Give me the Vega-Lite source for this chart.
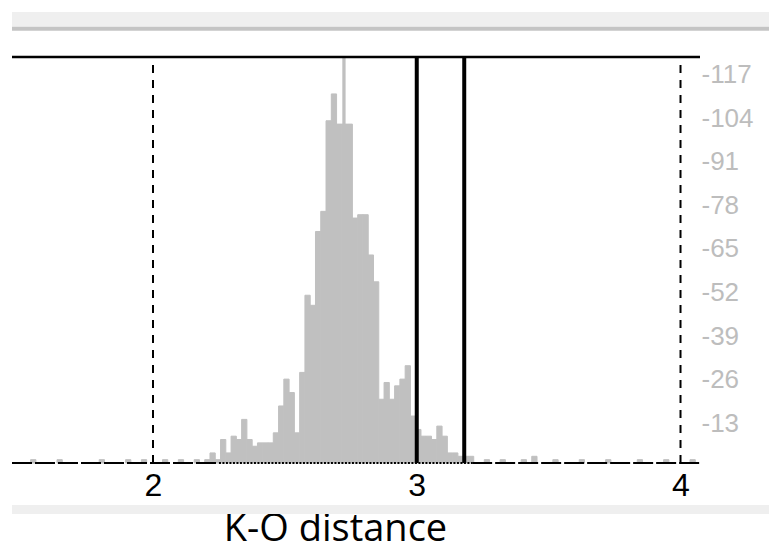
{
  "$schema": "https://vega.github.io/schema/vega-lite/v6.json",
  "width": 688,
  "height": 406,
  "autosize": {"type": "none"},
  "padding": {"left": 12, "top": 57, "right": 69, "bottom": 88},
  "background": "white",
  "config": {"view": {"stroke": null}},
  "datasets": {
    "bins": [
      {"k": 1.536, "k2": 1.556, "n": 1}, {"k": 1.636, "k2": 1.656, "n": 1}, {"k": 1.796, "k2": 1.816, "n": 1},
      {"k": 1.896, "k2": 1.916, "n": 1}, {"k": 1.956, "k2": 1.976, "n": 1}, {"k": 2.036, "k2": 2.056, "n": 1},
      {"k": 2.096, "k2": 2.116, "n": 1}, {"k": 2.156, "k2": 2.176, "n": 1}, {"k": 2.196, "k2": 2.216, "n": 1},
      {"k": 2.216, "k2": 2.236, "n": 3}, {"k": 2.236, "k2": 2.256, "n": 1}, {"k": 2.256, "k2": 2.276, "n": 7},
      {"k": 2.276, "k2": 2.296, "n": 3}, {"k": 2.296, "k2": 2.316, "n": 8}, {"k": 2.316, "k2": 2.336, "n": 7},
      {"k": 2.336, "k2": 2.356, "n": 13}, {"k": 2.356, "k2": 2.376, "n": 7}, {"k": 2.376, "k2": 2.396, "n": 5},
      {"k": 2.396, "k2": 2.416, "n": 6}, {"k": 2.416, "k2": 2.436, "n": 6}, {"k": 2.436, "k2": 2.456, "n": 6},
      {"k": 2.456, "k2": 2.476, "n": 9}, {"k": 2.476, "k2": 2.496, "n": 17}, {"k": 2.496, "k2": 2.516, "n": 25},
      {"k": 2.516, "k2": 2.536, "n": 21}, {"k": 2.536, "k2": 2.556, "n": 9}, {"k": 2.556, "k2": 2.576, "n": 27},
      {"k": 2.576, "k2": 2.596, "n": 50}, {"k": 2.596, "k2": 2.616, "n": 47}, {"k": 2.616, "k2": 2.636, "n": 69},
      {"k": 2.636, "k2": 2.656, "n": 75}, {"k": 2.656, "k2": 2.676, "n": 102}, {"k": 2.676, "k2": 2.696, "n": 110},
      {"k": 2.696, "k2": 2.716, "n": 101}, {"k": 2.716, "k2": 2.736, "n": 101}, {"k": 2.736, "k2": 2.756, "n": 101},
      {"k": 2.756, "k2": 2.776, "n": 73}, {"k": 2.776, "k2": 2.796, "n": 74}, {"k": 2.796, "k2": 2.816, "n": 74},
      {"k": 2.816, "k2": 2.836, "n": 62}, {"k": 2.836, "k2": 2.856, "n": 54}, {"k": 2.856, "k2": 2.876, "n": 19},
      {"k": 2.876, "k2": 2.896, "n": 24}, {"k": 2.896, "k2": 2.916, "n": 19}, {"k": 2.916, "k2": 2.936, "n": 23},
      {"k": 2.936, "k2": 2.956, "n": 25}, {"k": 2.956, "k2": 2.976, "n": 29}, {"k": 2.976, "k2": 2.996, "n": 14},
      {"k": 2.996, "k2": 3.016, "n": 10}, {"k": 3.016, "k2": 3.036, "n": 8}, {"k": 3.036, "k2": 3.056, "n": 8},
      {"k": 3.056, "k2": 3.076, "n": 7}, {"k": 3.076, "k2": 3.096, "n": 11}, {"k": 3.096, "k2": 3.116, "n": 8},
      {"k": 3.116, "k2": 3.136, "n": 3}, {"k": 3.136, "k2": 3.156, "n": 3}, {"k": 3.156, "k2": 3.176, "n": 2},
      {"k": 3.176, "k2": 3.196, "n": 2}, {"k": 3.196, "k2": 3.216, "n": 2}, {"k": 3.256, "k2": 3.276, "n": 1},
      {"k": 3.316, "k2": 3.336, "n": 1}, {"k": 3.396, "k2": 3.416, "n": 1}, {"k": 3.436, "k2": 3.456, "n": 2},
      {"k": 3.516, "k2": 3.536, "n": 1}, {"k": 3.616, "k2": 3.636, "n": 1}, {"k": 3.716, "k2": 3.736, "n": 1},
      {"k": 3.836, "k2": 3.856, "n": 1}, {"k": 3.936, "k2": 3.956, "n": 1}, {"k": 4.036, "k2": 4.056, "n": 1}
    ],
    "grid": [{"k": 2}, {"k": 3}, {"k": 4}],
    "cuts": [{"k": 3.0}, {"k": 3.18}],
    "one": [{}]
  },
  "data": {"name": "one"},
  "encoding": {
    "x": {
      "type": "quantitative",
      "scale": {"domain": [1.4654, 4.0739], "nice": false, "zero": false},
      "axis": {
        "values": [2, 3, 4],
        "format": "d",
        "title": "K-O distance",
        "titleFont": "Open Sans",
        "titleFontSize": 38,
        "titleFontWeight": "normal",
        "titleColor": "#000000",
        "titleX": 323,
        "titleY": 77,
        "titleAlign": "center",
        "titleBaseline": "alphabetic",
        "labelFont": "Liberation Sans",
        "labelFontSize": 32,
        "labelColor": "#000000",
        "labelBaseline": "alphabetic",
        "labelPadding": 32,
        "labelFlush": false,
        "labelOverlap": false,
        "ticks": false,
        "tickSize": 0,
        "domain": false,
        "grid": false
      }
    },
    "y": {
      "type": "quantitative",
      "scale": {"domain": [0, 121], "nice": false},
      "axis": {
        "orient": "right",
        "values": [13, 26, 39, 52, 65, 78, 91, 104, 117],
        "labelExpr": "'-' + datum.label",
        "labelFont": "Liberation Sans",
        "labelFontSize": 26,
        "labelColor": "#bdbdbd",
        "labelPadding": 1,
        "labelBaseline": "middle",
        "labelOffset": 4,
        "ticks": false,
        "tickSize": 0,
        "domain": false,
        "grid": false,
        "title": null
      }
    }
  },
  "layer": [
    {
      "description": "light header band above the plot",
      "mark": {"type": "rect", "color": "#efefef"},
      "encoding": {
        "x": {"datum": 1.4654},
        "x2": {"datum": 4.3355},
        "y": {"datum": 134.4},
        "y2": {"datum": 130.0}
      }
    },
    {
      "description": "grey rule under the header band",
      "mark": {"type": "rect", "color": "#c4c4c4"},
      "encoding": {
        "x": {"datum": 1.4654},
        "x2": {"datum": 4.3355},
        "y": {"datum": 130.0},
        "y2": {"datum": 128.8}
      }
    },
    {
      "description": "light band between tick labels and axis title",
      "mark": {"type": "rect", "color": "#efefef"},
      "encoding": {
        "x": {"datum": 1.4654},
        "x2": {"datum": 4.3355},
        "y": {"datum": -12.5},
        "y2": {"datum": -15.2}
      }
    },
    {
      "data": {"name": "bins"},
      "mark": {"type": "rect", "color": "#c0c0c0", "stroke": "#c0c0c0", "strokeWidth": 1},
      "encoding": {
        "x": {"field": "k"},
        "x2": {"field": "k2"},
        "y": {"field": "n"},
        "y2": {"datum": 0}
      }
    },
    {
      "description": "modal spike",
      "mark": {"type": "rule", "color": "#c0c0c0", "strokeWidth": 3.3},
      "encoding": {
        "x": {"datum": 2.724},
        "y": {"datum": 0},
        "y2": {"datum": 121}
      }
    },
    {
      "data": {"name": "grid"},
      "mark": {"type": "rule", "color": "#000000", "strokeWidth": 2, "strokeDash": [8, 7]},
      "encoding": {
        "x": {"field": "k"},
        "y": {"datum": 0},
        "y2": {"datum": 121}
      }
    },
    {
      "description": "baseline left of the histogram",
      "mark": {"type": "rule", "color": "#000000", "strokeWidth": 2, "strokeDash": [20, 3]},
      "encoding": {
        "x": {"datum": 1.4654},
        "x2": {"datum": 2.25},
        "y": {"datum": 0}
      }
    },
    {
      "description": "dotted baseline under the histogram",
      "mark": {"type": "rule", "color": "#000000", "strokeWidth": 2, "strokeDash": [2, 1.5]},
      "encoding": {
        "x": {"datum": 2.25},
        "x2": {"datum": 3.21},
        "y": {"datum": 0}
      }
    },
    {
      "description": "baseline right of the histogram",
      "mark": {"type": "rule", "color": "#000000", "strokeWidth": 2, "strokeDash": [20, 3]},
      "encoding": {
        "x": {"datum": 3.21},
        "x2": {"datum": 4.0739},
        "y": {"datum": 0}
      }
    },
    {
      "description": "top frame line",
      "mark": {"type": "rule", "color": "#000000", "strokeWidth": 2.5},
      "encoding": {
        "x": {"datum": 1.4654},
        "x2": {"datum": 4.0739},
        "y": {"datum": 121}
      }
    },
    {
      "data": {"name": "cuts"},
      "mark": {"type": "rule", "color": "#000000", "strokeWidth": 4},
      "encoding": {
        "x": {"field": "k"},
        "y": {"datum": 0},
        "y2": {"datum": 121}
      }
    }
  ]
}
